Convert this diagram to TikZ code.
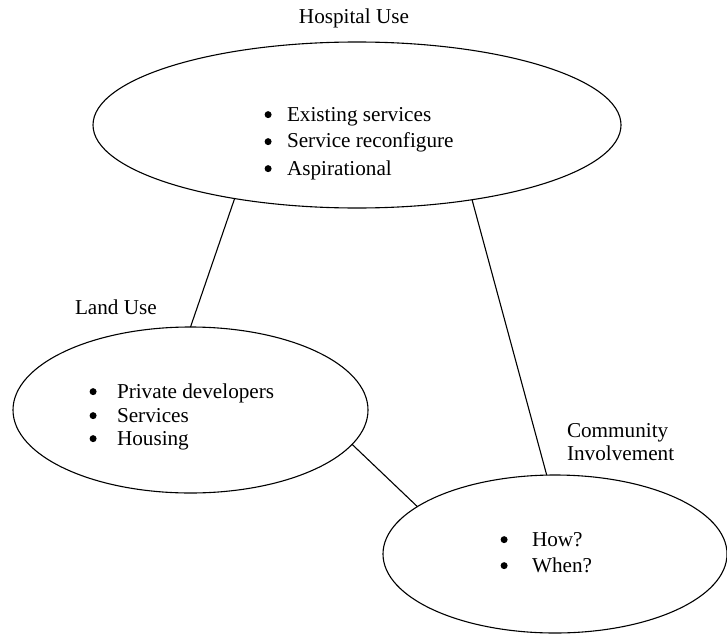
\documentclass[tikz,border=0pt]{standalone}
\usepackage{fontspec}
\setmainfont{Liberation Serif}
\usetikzlibrary{shapes.geometric}
\begin{document}
\begin{tikzpicture}[x=0.5pt,y=-0.5pt,
  oval/.style={draw, ellipse, line width=0.55pt, inner sep=0pt, outer sep=0pt},
  txt/.style={inner sep=0pt, outer sep=0pt, font=\fontsize{10.6pt}{13pt}\selectfont},
  link/.style={line width=0.55pt}]
\useasboundingbox (0,0) rectangle (727,642);
\newcommand{\bul}[2]{\makebox[#1][l]{\kern0.3pt\tikz[baseline=0pt]\fill (1.75pt,0.3em) circle[radius=1.75pt];}#2}
% ellipses
\node[oval, minimum width=264pt, minimum height=83pt] (top) at (357,125) {};
\node[oval, minimum width=177.5pt, minimum height=83pt] (left) at (190.5,410) {};
\node[oval, minimum width=172pt, minimum height=79pt] (right) at (555,554) {};
% titles
\node[txt, anchor=base] (ttop) at (354,24) {Hospital Use};
\node[txt, anchor=base west] (tleft) at (75,314) {Land Use};
\node[txt, anchor=base west] (tright1) at (567,437) {Community};
\node[txt, anchor=base west] (tright2) at (567,460) {Involvement};
% bullets top
\node[txt, anchor=base west] (a1) at (264,121) {\bul{11.5pt}{Existing services}};
\node[txt, anchor=base west] (a2) at (264,148) {\bul{11.5pt}{Service reconfigure}};
\node[txt, anchor=base west] (a3) at (264,175) {\bul{11.5pt}{Aspirational}};
% bullets left
\node[txt, anchor=base west] (b1) at (89,398) {\bul{14pt}{Private developers}};
\node[txt, anchor=base west] (b2) at (89,422) {\bul{14pt}{Services}};
\node[txt, anchor=base west] (b3) at (89,445) {\bul{14pt}{Housing}};
% bullets right
\node[txt, anchor=base west] (c1) at (500,546) {\bul{16pt}{How?}};
\node[txt, anchor=base west] (c2) at (500,572) {\bul{16pt}{When?}};
% connectors
\draw[link] (top.211.6) -- (left.90);
\draw[link] (top.327.1) -- (right.96.4);
\draw[link] (left.348.2) -- (right.161.6);
\end{tikzpicture}
\end{document}
